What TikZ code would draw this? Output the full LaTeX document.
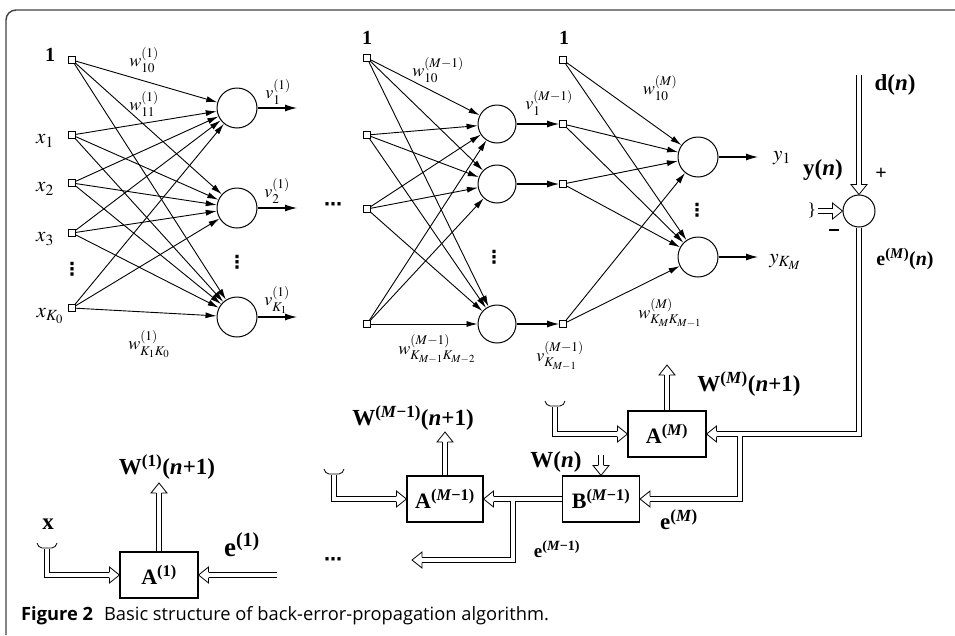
\documentclass[tikz,border=0pt]{standalone}
\usepackage{mathptmx}
\usepackage{fontspec}
\setmainfont{Liberation Serif}
\newfontfamily\capfont{Open Sans}
\newfontfamily\djfont{DejaVu Sans}
\usetikzlibrary{arrows.meta}
\tikzset{
 sq/.style={draw, line width=0.8pt, fill=white, minimum size=7pt, inner sep=0pt},
 neu/.style={draw, circle, line width=1pt, fill=white, minimum size=40pt, inner sep=0pt},
 neus/.style={draw, circle, line width=1pt, fill=white, minimum size=38pt, inner sep=0pt},
 blk/.style={draw, line width=1.1pt, minimum width=78pt, minimum height=46pt, inner sep=0pt, font=\fontsize{22}{24}\selectfont\bfseries},
 con/.style={line width=0.9pt, -{Latex[length=11pt,width=6pt]}},
 outa/.style={line width=1.1pt, -{Latex[length=12pt,width=7pt]}},
 dblo/.style={line width=6.2pt, line join=miter, line cap=butt},
 dbli/.style={line width=4.4pt, draw=white, line join=miter, line cap=butt},
 hhead/.pic={\draw[line width=0.8pt, line join=miter] (-10,2.65) -- (-10,8) -- (0,0) -- (-10,-8) -- (-10,-2.65);},
 tld/.pic={\draw[line width=0.8pt] (-10,-3) to[out=-70,in=180] (-5,2) -- (5,2) to[out=0,in=-110] (10,-3);},
 lab/.style={inner sep=0pt, font=\fontsize{18}{20}\selectfont},
 xlab/.style={inner sep=0pt, font=\fontsize{21}{23}\selectfont},
 vdt/.style={inner sep=0pt, font=\djfont\bfseries\fontsize{18}{18}\selectfont},
 blab/.style={inner sep=0pt, font=\fontsize{23}{25}\selectfont\bfseries},
 one/.style={inner sep=0pt, font=\fontsize{20}{22}\selectfont\bfseries},
}
\begin{document}
\begin{tikzpicture}[x=1pt,y=-1pt]
\useasboundingbox (0,0) rectangle (955,635);
% frame
\draw[line width=1.4pt, black!75, rounded corners=10pt] (6,635) -- (6,10) -- (955,10);
% ---------- layer 1 ----------
\node[sq] (a0) at (72,60) {};
\node[sq] (a1) at (72,135) {};
\node[sq] (a2) at (72,183) {};
\node[sq] (a3) at (72,233) {};
\node[sq] (a4) at (72,308) {};
\node[neu] (n1) at (237,108) {};
\node[neu] (n2) at (237,208) {};
\node[neu] (n3) at (237,317) {};
\foreach \i in {0,...,4} \foreach \j in {1,2,3} \draw[con] (a\i) -- (n\j);
\coordinate (o1) at (297,108);
\coordinate (o2) at (297,208);
\coordinate (o3) at (297,317);
\foreach \j in {1,2,3} \draw[outa] (n\j) -- (o\j);
\node[one] at (50,55) {1};
\node[xlab] at (45,141) {$x_1$};
\node[xlab] at (45,189) {$x_2$};
\node[xlab] at (45,239) {$x_3$};
\node[xlab] at (50,316) {$x_{K_0}$};
\node[vdt] at (72,269) {⋮};
\node[vdt] at (237,262) {⋮};
\node[lab] at (144,60) {$w^{(1)}_{10}$};
\node[lab] at (144,104) {$w^{(1)}_{11}$};
\node[lab] at (149,344) {$w^{(1)}_{K_1K_0}$};
\node[lab] at (278,92) {$v^{(1)}_{1}$};
\node[lab] at (277,191) {$v^{(1)}_{2}$};
\node[lab] at (277,300) {$v^{(1)}_{K_1}$};
\node[vdt] at (333,207) {⋯};
% ---------- layer M-1 ----------
\node[sq] (b0) at (367,58) {};
\node[sq] (b1) at (367,135) {};
\node[sq] (b2) at (367,209) {};
\node[sq] (b3) at (367,324) {};
\node[neus] (m1) at (497,124) {};
\node[neus] (m2) at (497,184) {};
\node[neus] (m3) at (497,324) {};
\node[sq] (c0) at (563,60) {};
\node[sq] (c1) at (563,124) {};
\node[sq] (c2) at (563,184) {};
\node[sq] (c3) at (563,324) {};
\foreach \i in {0,...,3} \foreach \j in {1,2,3} \draw[con] (b\i) -- (m\j);
\foreach \j in {1,2,3} \draw[outa] (m\j) -- (c\j);
\node[one] at (367,38) {1};
\node[one] at (564,38) {1};
\node[vdt] at (494,257) {⋮};
\node[lab] at (438,70) {$w^{(M-1)}_{10}$};
\node[lab] at (549,103) {$v^{(M-1)}_{1}$};
\node[lab] at (437,349) {$w^{(M-1)}_{K_{M-1}K_{M-2}}$};
\node[lab] at (560,356) {$v^{(M-1)}_{K_{M-1}}$};
% ---------- layer M ----------
\node[neu] (p1) at (698,157) {};
\node[neu] (p2) at (698,257) {};
\foreach \i in {0,...,3} \foreach \j in {1,2} \draw[con] (c\i) -- (p\j);
\coordinate (q1) at (758,157);
\coordinate (q2) at (758,257);
\foreach \j in {1,2} \draw[outa] (p\j) -- (q\j);
\node[vdt] at (697,210) {⋮};
\node[lab] at (660,88) {$w^{(M)}_{10}$};
\node[lab] at (670,313) {$w^{(M)}_{K_MK_{M-1}}$};
\node[xlab] at (782,158) {$y_1$};
\node[xlab] at (785,262) {$y_{K_M}$};
% ---------- summation ----------
\node[draw, circle, line width=1pt, minimum size=32pt, inner sep=0pt] (S) at (859,211) {};
\coordinate (dtop) at (859,75);
\coordinate (ymk) at (818,211);
\node[blab] at (895,85) {d(\textit{n})};
\node[blab] at (823,170) {y(\textit{n})};
\node[one] at (881,174) {+};
\node[one] at (834,230) {\rule{10pt}{1.8pt}};
\node[lab] at (812,210) {\}};
\node[inner sep=0pt, font=\fontsize{20}{22}\selectfont\bfseries] at (905,259) {e\textsuperscript{(\textit{M})}(\textit{n})};
% ---------- blocks ----------
\node[blk] (AM) at (667,434) {A\textsuperscript{(\textit{M})}};
\node[blk, minimum width=77pt] (B) at (601,499) {B\textsuperscript{(\textit{M}−1)}};
\node[blk, minimum width=76pt] (Am) at (445,499) {A\textsuperscript{(\textit{M}−1)}};
\node[blk] (A1) at (159,575) {A\textsuperscript{(1)}};
\coordinate (wM) at (667,365);
\coordinate (wm) at (445,432);
\coordinate (w1) at (159,483);
\coordinate (wn) at (601,455);
\coordinate (inM) at (555,407);
\coordinate (inm) at (334,475);
\coordinate (in1) at (47,549);
\coordinate (e1) at (277,575);
\coordinate (jM) at (740,434);
\coordinate (jm) at (513,499);
\coordinate (em) at (412,560);
\pic at (555,404) {tld};
\pic at (334,472) {tld};
\pic at (47,546) {tld};
\node[blab] at (48,524) {x};
\node[blab] at (749,384) {W\textsuperscript{(\textit{M})}(\textit{n}+1)};
\node[blab] at (413,418) {W\textsuperscript{(\textit{M}−1)}(\textit{n}+1)};
\node[blab] at (167,467) {W\textsuperscript{(1)}(\textit{n}+1)};
\node[blab] at (556,462) {W(\textit{n})};
\node[blab] at (679,520) {e\textsuperscript{(\textit{M})}};
\node[inner sep=0pt, font=\fontsize{19}{21}\selectfont\bfseries] at (557,549) {e\textsuperscript{(\textit{M}−1)}};
\node[inner sep=0pt, font=\fontsize{27}{29}\selectfont\bfseries] at (242,545) {e\textsuperscript{(1)}};
\node[vdt] at (333,562) {⋯};
% double connectors: outer pass, then inner pass
\foreach \s in {dblo,dbli}{
 \draw[\s, shorten >=10pt] (dtop) -- (S.north);
 \draw[\s, shorten >=10pt] (ymk) -- (S.west);
 \draw[\s, shorten >=10pt] (S.south) |- (AM.east);
 \draw[\s, shorten >=10pt] (jM) |- (B.east);
 \draw[\s, shorten >=10pt] (AM.north) -- (wM);
 \draw[\s, shorten >=10pt] (inM) |- (AM.west);
 \draw[\s, shorten >=10pt] (wn) -- (B.north);
 \draw[\s, shorten >=10pt] (B.west) -- (Am.east);
 \draw[\s, shorten >=10pt] (jm) |- (em);
 \draw[\s, shorten >=10pt] (Am.north) -- (wm);
 \draw[\s, shorten >=10pt] (inm) |- (Am.west);
 \draw[\s, shorten >=10pt] (A1.north) -- (w1);
 \draw[\s, shorten >=10pt] (in1) |- (A1.west);
 \draw[\s, shorten >=10pt] (e1) -- (A1.east);
}
\pic[rotate=-90] at (S.north) {hhead};
\pic at (S.west) {hhead};
\pic[rotate=180] at (AM.east) {hhead};
\pic[rotate=180] at (B.east) {hhead};
\pic[rotate=90] at (wM) {hhead};
\pic at (AM.west) {hhead};
\pic[rotate=-90] at (B.north) {hhead};
\pic[rotate=180] at (Am.east) {hhead};
\pic[rotate=180] at (em) {hhead};
\pic[rotate=90] at (wm) {hhead};
\pic at (Am.west) {hhead};
\pic[rotate=90] at (w1) {hhead};
\pic at (A1.west) {hhead};
\pic[rotate=180] at (A1.east) {hhead};
% caption
\node[anchor=base west, inner sep=0pt, font=\capfont\fontsize{18.3}{20}\selectfont] (cap) at (21,620) {\textbf{Figure 2}\hspace{0.6em}Basic structure of back-error-propagation algorithm.};
\end{tikzpicture}
\end{document}
